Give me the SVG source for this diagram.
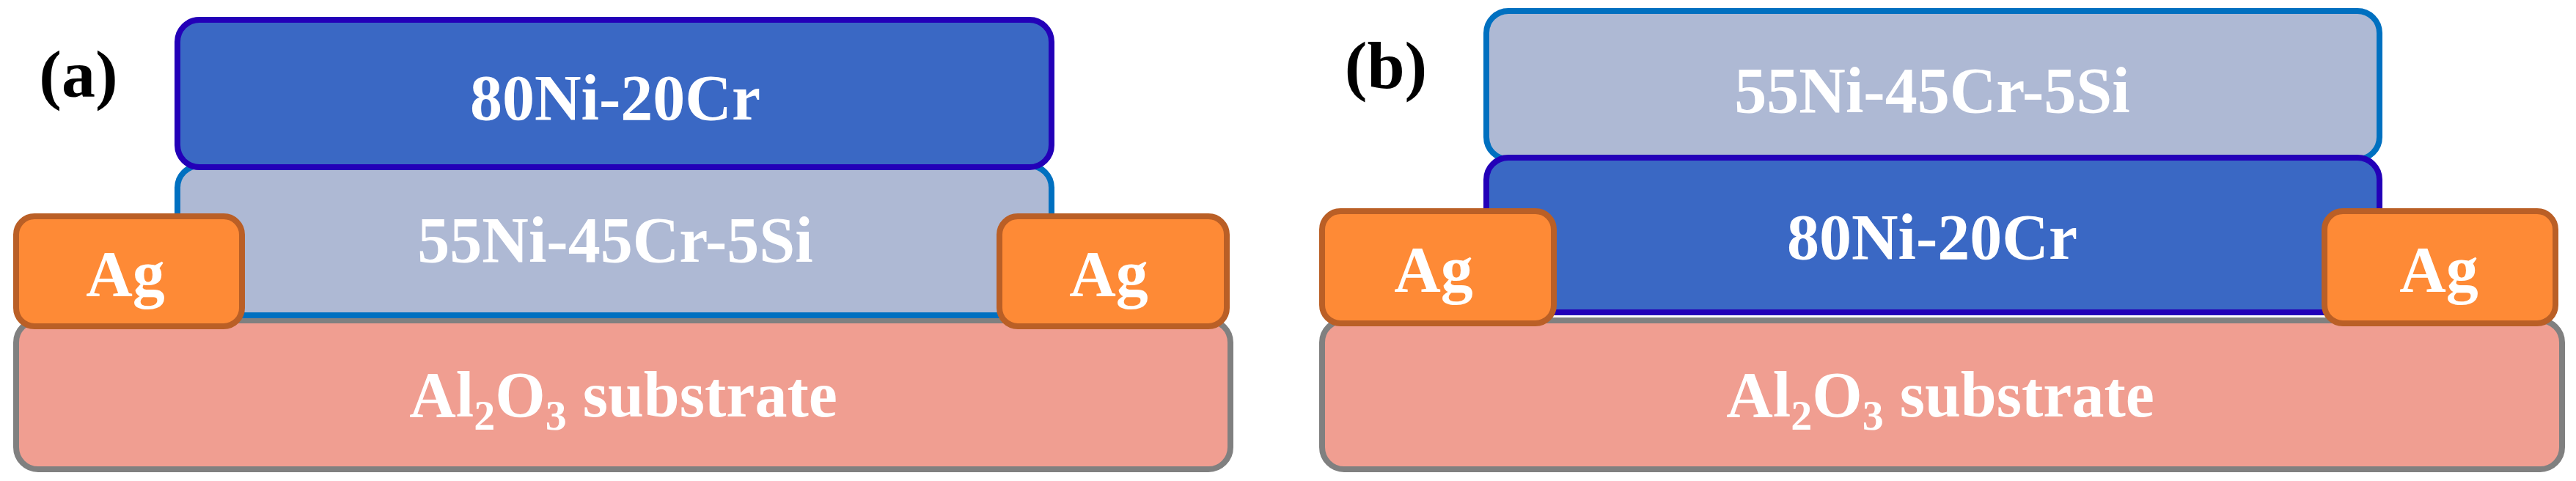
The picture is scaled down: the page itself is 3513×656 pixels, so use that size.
<svg xmlns="http://www.w3.org/2000/svg" width="3513" height="656" viewBox="0 0 3513 656">
<style>
rect{stroke-width:8}
.sub{fill:#F09E91;stroke:#808080}
.nc{fill:#3A68C4;stroke:#2300B8}
.ncs{fill:#AEB9D4;stroke:#0070C0}
.ag{fill:#FE8A36;stroke:#BA5F26}
text{font-family:"Liberation Serif","Times New Roman",serif;font-weight:bold;text-anchor:middle;fill:#fff;font-size:88px}
.lbl{fill:#000;font-size:92px}
</style>
<g id="panel-a">
<text class="lbl" x="107" y="132">(a)</text>
<g id="a-sub"><rect class="sub" x="22" y="437" width="1656" height="203" rx="30"/><text x="850" y="568">Al<tspan font-size="58" dy="18">2</tspan><tspan dy="-18">O</tspan><tspan font-size="58" dy="18">3</tspan><tspan dy="-18"> substrate</tspan></text></g>
<g id="a-ncs"><rect class="ncs" x="242" y="226" width="1192" height="204" rx="30"/><text x="839" y="357">55Ni-45Cr-5Si</text></g>
<g id="a-nc"><rect class="nc" x="242" y="27" width="1192" height="201" rx="30"/><text x="839" y="163">80Ni-20Cr</text></g>
<g id="a-ag1"><rect class="ag" x="22" y="295" width="308" height="150" rx="25"/><text x="171" y="403">Ag</text></g>
<g id="a-ag2"><rect class="ag" x="1363" y="295" width="310" height="150" rx="25"/><text x="1512" y="403">Ag</text></g>
</g>
<g id="panel-b">
<text class="lbl" x="1890" y="120">(b)</text>
<g id="b-sub"><rect class="sub" x="1803" y="437" width="1691" height="203" rx="30"/><text x="2646" y="568">Al<tspan font-size="58" dy="18">2</tspan><tspan dy="-18">O</tspan><tspan font-size="58" dy="18">3</tspan><tspan dy="-18"> substrate</tspan></text></g>
<g id="b-ncs"><rect class="ncs" x="2027" y="15" width="1218" height="202" rx="30"/><text x="2635" y="153">55Ni-45Cr-5Si</text></g>
<g id="b-nc"><rect class="nc" x="2027" y="215" width="1218" height="211" rx="30"/><text x="2635" y="353">80Ni-20Cr</text></g>
<g id="b-ag1"><rect class="ag" x="1803" y="288" width="316" height="153" rx="25"/><text x="1955" y="397">Ag</text></g>
<g id="b-ag2"><rect class="ag" x="3170" y="288" width="315" height="153" rx="25"/><text x="3326" y="397">Ag</text></g>
</g>
<g id="connectors"/>
</svg>
